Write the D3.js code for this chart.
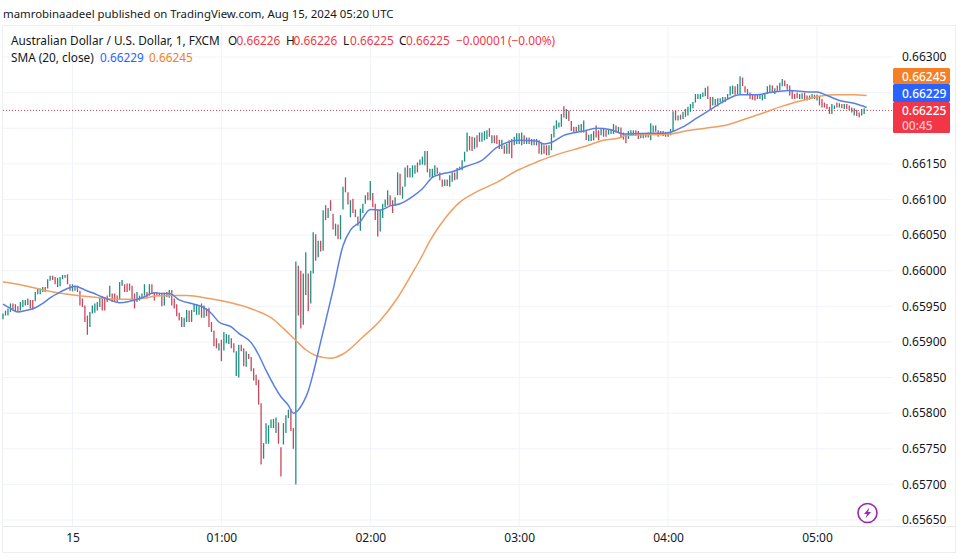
<!DOCTYPE html>
<html>
<head>
<meta charset="utf-8">
<script src="https://cdn.jsdelivr.net/npm/d3@7"></script>
<style>
  html, body { margin: 0; padding: 0; background: #fff; }
  svg { display: block; }
  text { font-family: "Noto Sans", sans-serif; font-size: 12px; fill: #131722; }
  .legend { font-size: 11.8px; }
</style>
</head>
<body>
<svg id="chart" width="958" height="560"></svg>
<script>
// prices are in 1/100000, so 66300 = 0.66300. one bar per minute from 23:32 UTC
const barHighs = [
  65940,65944,65947,65954,65954,65953,65950,65956,65959,65959,65961,65959,65959,65970,65975,65975,65977,65977,65988,65993,
  65993,65991,65990,65991,65994,65994,65995,65981,65981,65979,65979,65972,65961,65951,65937,65942,65951,65954,65956,65963,
  65964,65963,65965,65979,65968,65968,65965,65984,65987,65981,65982,65982,65979,65968,65970,65965,65968,65981,65970,65981,
  65981,65970,65970,65969,65969,65969,65970,65973,65973,65961,65953,65941,65935,65934,65945,65944,65945,65953,65953,65950,
  65954,65951,65947,65948,65928,65916,65905,65898,65903,65914,65911,65910,65905,65898,65887,65896,65896,65891,65887,65883,
  65879,65863,65854,65847,65814,65758,65786,65783,65791,65792,65794,65787,65752,65786,65797,65805,65806,65779,66013,66007,
  66000,65996,66026,65996,66000,66054,66051,66042,66042,66085,66092,66088,66099,66080,66066,66065,66078,66118,66131,66110,
  66099,66101,66086,66076,66087,66094,66106,66110,66126,66109,66094,66086,66086,66094,66100,66113,66106,66099,66103,66138,
  66136,66118,66145,66148,66144,66148,66148,66152,66156,66160,66168,66168,66143,66143,66148,66145,66138,66128,66128,66128,
  66134,66138,66138,66144,66146,66155,66167,66194,66189,66188,66187,66190,66194,66194,66196,66197,66200,66190,66190,66190,
  66184,66184,66176,66178,66183,66185,66188,66193,66193,66194,66190,66187,66187,66185,66185,66185,66183,66178,66176,66176,
  66176,66192,66204,66211,66208,66220,66231,66227,66225,66210,66202,66202,66205,66206,66211,66198,66191,66192,66196,66204,
  66197,66200,66199,66198,66198,66199,66206,66204,66202,66201,66194,66192,66196,66197,66197,66197,66196,66192,66192,66193,
  66194,66207,66204,66204,66197,66196,66196,66195,66195,66199,66224,66225,66218,66219,66223,66227,66230,66234,66237,66248,
  66248,66248,66250,66257,66259,66244,66244,66241,66242,66242,66244,66244,66248,66259,66260,66259,66262,66273,66271,66259,
  66255,66250,66248,66247,66247,66248,66247,66248,66259,66261,66260,66256,66260,66264,66269,66267,66262,66260,66253,66248,
  66250,66248,66249,66250,66246,66246,66248,66247,66247,66245,66241,66236,66234,66230,66234,66232,66236,66235,66234,66234,
  66234,66232,66229,66228,66226,66222,66227,66228,66226
];
const barLows = [
  65932,65937,65937,65942,65944,65942,65942,65944,65949,65951,65952,65947,65945,65957,65967,65967,65970,65970,65975,65986,
  65987,65981,65977,65978,65988,65990,65981,65972,65971,65972,65970,65951,65949,65928,65910,65921,65940,65941,65944,65949,
  65944,65944,65956,65963,65956,65956,65956,65959,65979,65970,65970,65972,65958,65947,65956,65958,65961,65965,65961,65965,
  65968,65958,65965,65964,65950,65951,65963,65962,65951,65947,65936,65930,65921,65921,65928,65928,65928,65942,65938,65938,
  65934,65934,65936,65921,65914,65894,65891,65888,65873,65888,65898,65897,65891,65885,65852,65850,65887,65866,65865,65876,
  65859,65846,65839,65812,65728,65736,65757,65757,65779,65779,65772,65757,65711,65756,65772,65793,65775,65750,65700,65937,
  65919,65924,65966,65943,65954,65996,66014,66019,66027,66028,66071,66074,66084,66058,66049,66044,66044,66086,66110,66093,
  66075,66081,66075,66063,66056,66081,66094,66099,66099,66089,66071,66048,66055,66074,66089,66092,66091,66081,66091,66106,
  66106,66101,66118,66131,66131,66131,66136,66138,66148,66149,66148,66138,66131,66131,66134,66136,66127,66118,66119,66119,
  66118,66125,66127,66128,66141,66141,66153,66167,66169,66168,66171,66173,66181,66181,66183,66185,66188,66179,66179,66178,
  66171,66171,66164,66164,66164,66158,66176,66178,66178,66176,66178,66178,66178,66176,66176,66176,66164,66163,66164,66162,
  66162,66169,66187,66199,66201,66202,66215,66213,66210,66196,66194,66194,66196,66194,66194,66183,66182,66182,66183,66187,
  66183,66190,66188,66188,66191,66192,66192,66194,66194,66187,66184,66179,66185,66190,66190,66190,66185,66186,66186,66187,
  66187,66183,66194,66195,66188,66190,66189,66188,66188,66190,66195,66211,66211,66212,66213,66216,66218,66223,66228,66236,
  66241,66241,66244,66245,66241,66226,66232,66232,66231,66237,66235,66237,66240,66246,66248,66247,66248,66248,66259,66250,
  66247,66241,66240,66239,66241,66241,66239,66241,66248,66250,66250,66248,66252,66253,66259,66259,66254,66246,66241,66241,
  66242,66241,66241,66239,66239,66240,66241,66241,66239,66232,66229,66229,66227,66220,66220,66227,66229,66229,66228,66227,
  66227,66225,66222,66218,66217,66215,66218,66220,66225
];
// u = closed up, d = closed down, ten bars per chunk
const barDirections = [
  "uuuuddduuu","udduuuuduu","dduuuudduu","ddddduuuuu","ddduddduud",
  "dddduuuudu","dddddududd","ddduuduuuu","dudddddudu","uudduuddud",
  "ddddduuuuu","udduuuddud","duuduududu","dudduduudd","uddduuudud",
  "dduuuudduu","duuduuuduu","uduuudddud","uududuuudd","uduuuududd",
  "dududduuuu","dududududd","uuuuuududd","dduuuduuud","duuduuudud",
  "dduuuddudu","duuudduddu","ududuuuuuu","uuuudduuuu","uduuuduudd",
  "ddddduuuuu","duduuddddd","duudduudud","dddduududu","dddudduud"
].join("");

const sma20Bars = [0,3,6,9,13,16,19,23,26,29,33,36,40,43,47,51,56,61,64,67,71,77,81,84,87,92,95,100,103,106,112,115,117,121,123,125,128,133,137,140,144,148,152,156,160,165,169,173,177,181,187,193,199,204,208,215,218,221,226,234,239,245,250,261,267,274,279,285,290,297,304,309,317,325,328,332,337,343,348];
const sma20Values = [65953,65947,65942,65944,65948,65954,65962,65970,65975,65978,65973,65969,65963,65959,65955,65957,65962,65969,65968,65968,65959,65953,65948,65940,65928,65921,65912,65899,65882,65860,65823,65811,65800,65815,65831,65856,65900,65973,66035,66057,66069,66086,66085,66091,66094,66104,66115,66131,66136,66139,66147,66155,66173,66181,66183,66182,66178,66180,66190,66196,66200,66198,66192,66193,66193,66202,66213,66226,66237,66247,66247,66250,66253,66251,66251,66246,66239,66235,66229];
const sma200Bars = [0,6,16,26,39,46,53,64,74,83,93,102,108,113,118,122,126,132,137,145,152,159,165,168,172,178,184,191,199,208,212,216,224,234,242,249,251,269,275,283,292,300,306,314,322,329,336,343,348];
const sma200Values = [65984,65981,65973,65967,65962,65960,65960,65965,65965,65961,65954,65944,65934,65919,65902,65889,65881,65877,65883,65907,65930,65962,65997,66015,66042,66073,66096,66111,66124,66142,66148,66154,66164,66174,66183,66187,66190,66192,66196,66200,66205,66214,66221,66231,66239,66245,66247,66247,66246];

const priceTicks = [66300,66250,66200,66150,66100,66050,66000,65950,65900,65850,65800,65750,65700,65650];
const coveredPriceTicks = [66250,66200]; // sit under the price tags, no label
const timeTicks = [28,88,148,208,268,328]; // bars at 00:00 ... 05:00
const timeLabels = ["15","01:00","02:00","03:00","04:00","05:00"];

const upColor = "#1f8f7f", downColor = "#c8475a";
const gridColor = "#f0f3fa";
const plotLeft = 3, plotRight = 893, plotBottom = 526;

const svg = d3.select("#chart");
const startTime = Date.UTC(2024, 7, 14, 23, 32);
const barTime = (i) => new Date(startTime + i * 60000);

const x = d3.scaleUtc().domain([barTime(0), barTime(328)]).range([3, 817]);
const y = d3.scaleLinear().domain([66300, 65650]).range([57, 520]);
const fmt = (d) => (d / 100000).toFixed(5);

// frame
svg.append("rect").attr("x", 2.5).attr("y", 25.5).attr("width", 953).attr("height", 527)
  .attr("fill", "#fff").attr("stroke", "#eceef2");
svg.append("line").attr("x1", 3).attr("x2", 955).attr("y1", plotBottom + 0.5).attr("y2", plotBottom + 0.5)
  .attr("stroke", "#e6e8ee");

// grid
svg.append("g").selectAll("line").data(priceTicks).join("line")
  .attr("x1", plotLeft).attr("x2", plotRight)
  .attr("y1", (d) => y(d)).attr("y2", (d) => y(d))
  .attr("stroke", gridColor);
svg.append("g").selectAll("line").data(timeTicks).join("line")
  .attr("x1", (d) => x(barTime(d))).attr("x2", (d) => x(barTime(d)))
  .attr("y1", 26).attr("y2", plotBottom)
  .attr("stroke", gridColor);

// last price line
svg.append("line").attr("x1", plotLeft).attr("x2", plotRight)
  .attr("y1", y(66225)).attr("y2", y(66225))
  .attr("stroke", downColor).attr("stroke-dasharray", "1 2");

// bars
svg.append("g").selectAll("line").data(barHighs).join("line")
  .attr("x1", (d, i) => x(barTime(i))).attr("x2", (d, i) => x(barTime(i)))
  .attr("y1", (d) => y(d)).attr("y2", (d, i) => y(barLows[i]))
  .attr("stroke-width", 1.3)
  .attr("stroke", (d, i) => (barDirections[i] === "u" ? upColor : downColor));

// moving averages
const smaLine = d3.line().x((d) => x(barTime(d[0]))).y((d) => y(d[1])).curve(d3.curveMonotoneX);
svg.append("path").attr("d", smaLine(d3.zip(sma200Bars, sma200Values)))
  .attr("fill", "none").attr("stroke", "#ef9f62").attr("stroke-width", 1.5);
svg.append("path").attr("d", smaLine(d3.zip(sma20Bars, sma20Values)))
  .attr("fill", "none").attr("stroke", "#5b7fe0").attr("stroke-width", 1.5);

// axes
const priceAxis = svg.append("g").attr("transform", "translate(893,0)")
  .call(d3.axisRight(y).tickValues(priceTicks.filter((d) => !coveredPriceTicks.includes(d)))
    .tickSize(0).tickPadding(9).tickFormat(fmt));
priceAxis.select(".domain").remove();
const timeAxis = svg.append("g").attr("transform", `translate(0,${plotBottom})`)
  .call(d3.axisBottom(x).tickValues(timeTicks.map(barTime)).tickSize(0).tickPadding(7)
    .tickFormat((d, i) => timeLabels[i]));
timeAxis.select(".domain").remove();
svg.selectAll(".tick text").style("font-size", "12px").style("font-family", '"Noto Sans", sans-serif');

// price tags
const tags = [
  { top: 68, h: 16, base: 81, fill: "#f57f22", label: "0.66245" },
  { top: 84, h: 18, base: 98, fill: "#2962ff", label: "0.66229" },
  { top: 102, h: 31, base: 115, fill: "#f23645", label: "0.66225" }
];
svg.append("g").selectAll("rect").data(tags).join("rect")
  .attr("x", 893).attr("y", (d) => d.top).attr("width", 57).attr("height", (d) => d.h)
  .attr("rx", 1.5).attr("fill", (d) => d.fill);
const tagText = svg.append("g").selectAll("text").data(tags).join("text")
  .attr("x", 902).attr("y", (d) => d.base)
  .style("fill", "#fff").style("font-weight", 500)
  .text((d) => d.label);
// countdown shares the last price text
tagText.filter((d) => d.label === "0.66225").append("tspan")
  .attr("x", 902).attr("dy", 14.5).style("fill", "#ffc4cb").text("00:45");

// title and legend
svg.append("text").attr("x", 3).attr("y", 18).style("font-size", "11.4px")
  .text("mamrobinaadeel published on TradingView.com, Aug 15, 2024 05:20 UTC");
svg.append("text").attr("class", "legend").attr("x", 11).attr("y", 45).text("Australian Dollar / U.S. Dollar, 1, FXCM");
const legendRed = "#f23645";
[[228, "O", "#131722"], [236.5, "0.66226", legendRed], [286, "H", "#131722"], [293.5, "0.66226", legendRed],
 [343, "L", "#131722"], [350, "0.66225", legendRed], [399, "C", "#131722"], [406, "0.66225", legendRed],
 [456, "\u22120.00001", legendRed], [508, "(\u22120.00%)", legendRed]].forEach(([px, str, col]) => {
  svg.append("text").attr("class", "legend").attr("x", px).attr("y", 45).style("fill", col).text(str);
});
svg.append("text").attr("class", "legend").attr("x", 11).attr("y", 62).text("SMA (20, close)");
svg.append("text").attr("class", "legend").attr("x", 100).attr("y", 62).style("fill", "#2962ff").text("0.66229");
svg.append("text").attr("class", "legend").attr("x", 149).attr("y", 62).style("fill", "#f57f22").text("0.66245");

// lightning badge
const badge = svg.append("g").attr("transform", "translate(867.5,513)");
badge.append("circle").attr("r", 9.5).attr("fill", "#fff").attr("stroke", "#9c27b0").attr("stroke-width", 1.6);
badge.append("path").attr("d", "M2,-5.5L-3.5,1H-0.5L-2,5.5L3.5,-1H0.5Z").attr("fill", "#9c27b0");
</script>
</body>
</html>
